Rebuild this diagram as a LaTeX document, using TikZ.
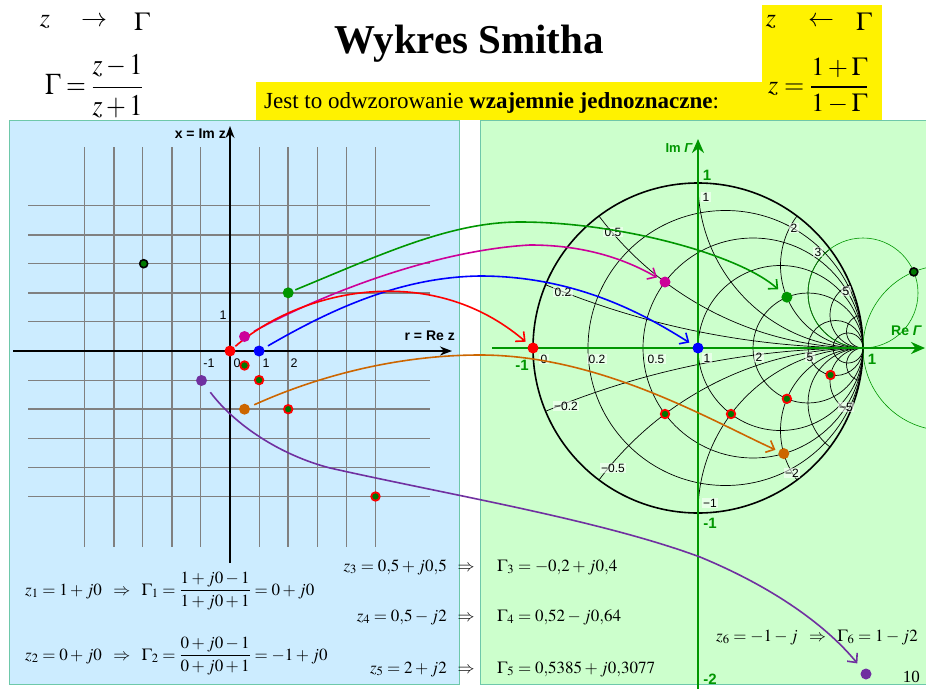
\documentclass[tikz,border=0pt]{standalone}
\usepackage{mathptmx}
\usepackage[no-math]{fontspec}
\setmainfont{Liberation Serif}
\newfontfamily\arial{Liberation Sans}
\usetikzlibrary{arrows.meta}
\pgfdeclarelayer{fg}
\pgfsetlayers{main,fg}
\definecolor{panelblue}{RGB}{204,236,255}
\definecolor{panelgreen}{RGB}{204,255,204}
\definecolor{panelborder}{RGB}{110,200,170}
\definecolor{dgreen}{RGB}{0,150,0}
\definecolor{dotgreen}{RGB}{0,120,0}
\definecolor{mag}{RGB}{204,0,153}
\definecolor{orng}{RGB}{204,102,0}
\definecolor{purp}{RGB}{112,48,160}
\definecolor{gridgray}{RGB}{128,128,128}
\tikzset{
  eqn/.style={font=\fontsize{17}{20}\selectfont, inner sep=0pt},
  bigeq/.style={font=\fontsize{26}{30}\selectfont, inner sep=0pt},
  gthick/.style={gridgray, line width=1.8pt},
  gthin/.style={gridgray, line width=1pt},
  axisblk/.style={black, line width=1.6pt, -{Stealth[length=12pt,width=9pt]}},
  axisgrn/.style={dgreen, line width=2.6pt, -{Stealth[length=14pt,width=12pt]}},
  sc/.style={black, line width=0.7pt},
  scthin/.style={dgreen, line width=0.6pt},
  slab/.style={font=\arial\fontsize{12}{13}\selectfont, fill=white, fill opacity=0.55, text opacity=1, inner sep=1.2pt},
  tlab/.style={font=\arial\fontsize{12.5}{14}\selectfont, inner sep=0pt},
  glab/.style={font=\arial\bfseries\fontsize{15}{16}\selectfont, text=dgreen, inner sep=0pt},
  dot/.style={circle, inner sep=0pt, minimum size=11pt},
  rdot/.style={circle, inner sep=0pt, minimum size=8.5pt, fill=dotgreen, draw=red, line width=1.8pt},
  bdot/.style={circle, inner sep=0pt, minimum size=8pt, fill=dotgreen, draw=black, line width=1.6pt},
  conn/.style={line width=1.6pt, -{Straight Barb[length=7pt,width=13pt]}},
}
\begin{document}
\begin{tikzpicture}[x=1pt,y=-1pt]
\useasboundingbox (0,0) rectangle (926,688);
\fill[white] (0,0) rectangle (926,688);
% panels
\draw[panelborder, fill=panelblue, line width=1pt] (9,120) rectangle (459,684);
\draw[panelborder, fill=panelgreen, line width=1pt] (480,120) rectangle (940,684);
% yellow
\fill[yellow] (256,82) rectangle (762,119.5);
\fill[yellow] (762,5) rectangle (882,119.5);
% title and header text
\node[font=\bfseries\fontsize{41}{48}\selectfont, anchor=base, inner sep=0pt] (title) at (469,53) {Wykres Smitha};
\node[font=\fontsize{23}{26}\selectfont, anchor=base west, inner sep=0pt] (jest) at (264,108) {Jest to odwzorowanie \textbf{wzajemnie jednoznaczne}:};
\node[bigeq] (lz) at (45,22) {$z$};
\node[bigeq] (larr) at (94,22) {$\rightarrow$};
\node[bigeq] (lG) at (142,22) {$\Gamma$};
\node[font=\fontsize{30}{34}\selectfont, inner sep=0pt, anchor=west] (lfrac) at (45,86) {\scalebox{0.85}[1]{$\Gamma=\displaystyle\frac{z-1}{z+1}$}};
\node[bigeq] (rz) at (771,22) {$z$};
\node[bigeq] (rarr) at (821,22) {$\leftarrow$};
\node[bigeq] (rG) at (864,22) {$\Gamma$};
\node[font=\fontsize{26}{30}\selectfont, inner sep=0pt, anchor=west] (rfrac) at (768,86) {$z=\displaystyle\frac{1+\Gamma}{1-\Gamma}$};
% grid
\foreach \k in {-4,-2,2,4} {
  \draw[gthick] ({230+29.1*\k},147) -- ({230+29.1*\k},547);
  \draw[gthick] (28,{351-29.1*\k}) -- (430,{351-29.1*\k});
}
\foreach \k in {-5,-3,-1,1,3,5} {
  \draw[gthin] ({230+29.1*\k},147) -- ({230+29.1*\k},547);
  \draw[gthin] (28,{351-29.1*\k}) -- (430,{351-29.1*\k});
}
\coordinate (hx0) at (13,351);
\coordinate (hx1) at (452,351);
\coordinate (vy0) at (230,563);
\coordinate (vy1) at (230,126);
\draw[axisblk] (hx0) -- (hx1);
\draw[axisblk] (vy0) -- (vy1);
\node[font=\arial\bfseries\fontsize{14}{16}\selectfont, anchor=east, inner sep=0pt] (xlab) at (226,134) {x = Im z};
\node[font=\arial\bfseries\fontsize{14}{16}\selectfont, anchor=east, inner sep=0pt] (rlab) at (455,336) {r = Re z};
\node[tlab] (t1) at (223,315) {1};
\node[tlab] (tm1) at (209,363) {-1};
\node[tlab] (t0) at (237,363) {0};
\node[tlab] (t1b) at (266,363) {1};
\node[tlab] (t2) at (294,363) {2};
% Smith chart
\begin{scope}
  \clip (698,348) circle[radius=165];
  \foreach \x in {0.2,0.5,1,2,3,5,10} {
    \draw[sc] (863,{348-165/\x}) circle[radius={165/\x}];
    \draw[sc] (863,{348+165/\x}) circle[radius={165/\x}];
  }
\end{scope}
\foreach \r in {0.2,0.5,1,2,5,10} {
  \draw[sc] ({698+165*\r/(1+\r)},348) circle[radius={165/(1+\r)}];
}
\draw[black, line width=1.6pt] (698,348) circle[radius=165];
\draw[scthin] (945.5,348) circle[radius=82.5];
\draw[scthin] (863,293) circle[radius=55];
\coordinate (gh0) at (492,348);
\coordinate (gh1) at (925,348);
\coordinate (gv0) at (698,690);
\coordinate (gv1) at (698,139);
\draw[axisgrn] (gh0) -- (gh1);
\draw[axisgrn] (gv0) -- (gv1);
\node[font=\arial\bfseries\fontsize{13}{14}\selectfont, text=dgreen, anchor=east, inner sep=0pt] (imG) at (693,148) {Im \textit{Γ}};
\node[font=\arial\bfseries\fontsize{14}{15}\selectfont, text=dgreen, anchor=west, inner sep=0pt] (reG) at (891,331) {Re \textit{Γ}};
\node[glab] (g1v) at (707,175) {1};
\node[glab] (g1h) at (872,359) {1};
\node[glab] (gm1h) at (522,365) {-1};
\node[glab] (gm1v) at (710,523) {-1};
\node[glab] (gm2v) at (710,679) {-2};
% chart labels
\node[slab] (a0) at (544,359) {0};
\node[slab] (a02) at (597,359) {0.2};
\node[slab] (a05) at (656,359) {0.5};
\node[slab] (a1) at (707,358) {1};
\node[slab] (a2) at (759,357) {2};
\node[slab] (a5) at (810,357) {5};
\node[slab] (u1) at (706,197) {1};
\node[slab] (u05) at (613,232) {0.5};
\node[slab] (u02) at (563,292) {0.2};
\node[slab] (u2) at (794,228) {2};
\node[slab] (u3) at (818,252) {3};
\node[slab] (u5) at (846,291) {5};
\node[slab] (l02) at (566,406) {−0.2};
\node[slab] (l05) at (613,468) {−0.5};
\node[slab] (l1) at (710,503) {−1};
\node[slab] (l2) at (792,473) {−2};
\node[slab] (l5) at (846,407) {−5};
% dots
\begin{pgfonlayer}{fg}
\node[dot, fill=red] (zA) at (230,351) {};
\node[dot, fill=blue] (zB) at (259.1,351) {};
\node[dot, fill=mag] (zC) at (244.5,336.5) {};
\node[dot, fill=orng] (zD) at (244.5,409.2) {};
\node[dot, fill=dgreen] (zE) at (288.2,292.8) {};
\node[dot, fill=purp] (zF) at (201.5,380.5) {};
\node[bdot] (zK) at (143.7,263.7) {};
\node[rdot] (zR1) at (244.5,365.5) {};
\node[rdot] (zR2) at (259.1,380.1) {};
\node[rdot] (zR3) at (288.2,409.2) {};
\node[rdot] (zR4) at (375.5,496.5) {};
\node[dot, fill=red] (gA) at (533,348) {};
\node[dot, fill=blue] (gB) at (698,348) {};
\node[dot, fill=mag] (gC) at (665,282) {};
\node[dot, fill=orng] (gD) at (783.8,453.6) {};
\node[dot, fill=dgreen] (gE) at (786.9,297.2) {};
\node[dot, fill=purp] (gF) at (866,674) {};
\node[bdot] (gK) at (913.8,271.9) {};
\node[rdot] (gR1) at (665,414) {};
\node[rdot] (gR2) at (731,414) {};
\node[rdot] (gR3) at (786.9,398.8) {};
\node[rdot] (gR4) at (830.5,375) {};
\end{pgfonlayer}
% connectors
\draw[conn, dgreen, shorten <=2pt, shorten >=6pt] (zE) .. controls (380,255) and (450,222) .. (520,222) .. controls (620,222) and (740,255) .. (gE);
\draw[conn, mag, shorten <=5pt, shorten >=3.5pt] (zC) .. controls (330,290) and (440,250) .. (530,245) .. controls (590,245) and (630,262) .. (gC);
\draw[conn, blue, shorten <=4.5pt, shorten >=4.5pt] (zB) .. controls (330,310) and (400,277) .. (480,276) .. controls (580,276) and (650,318) .. (gB);
\draw[conn, red, shorten <=1.5pt, shorten >=4pt] (zA) .. controls (300,290) and (430,260) .. (gA);
\draw[conn, orng, shorten <=5pt, shorten >=3.5pt] (zD) .. controls (320,375) and (400,355) .. (480,355) .. controls (600,355) and (710,420) .. (gD);
\draw[conn, purp, shorten <=9pt, shorten >=8pt] (zF) .. controls (235,425) and (280,455) .. (330,468) .. controls (450,495) and (600,520) .. (700,557) .. controls (780,590) and (830,630) .. (gF);
% equations
\node[eqn, anchor=base west] (e1) at (25,595) {$z_1=1+j0\;\;\Rightarrow\;\;\Gamma_1=\displaystyle\frac{1+j0-1}{1+j0+1}=0+j0$};
\node[eqn, anchor=base west] (e2) at (25,660) {$z_2=0+j0\;\;\Rightarrow\;\;\Gamma_2=\displaystyle\frac{0+j0-1}{0+j0+1}=-1+j0$};
\node[eqn, anchor=base east] (e3l) at (447,571) {$z_3=0{,}5+j0{,}5$};
\node[eqn, anchor=base] (e3m) at (466,571) {$\Rightarrow$};
\node[eqn, anchor=base west] (e3r) at (497,571) {$\Gamma_3=-0{,}2+j0{,}4$};
\node[eqn, anchor=base east] (e4l) at (447,621) {$z_4=0{,}5-j2$};
\node[eqn, anchor=base] (e4m) at (466,621) {$\Rightarrow$};
\node[eqn, anchor=base west] (e4r) at (497,621) {$\Gamma_4=0{,}52-j0{,}64$};
\node[eqn, anchor=base east] (e5l) at (447,673) {$z_5=2+j2$};
\node[eqn, anchor=base] (e5m) at (466,673) {$\Rightarrow$};
\node[eqn, anchor=base west] (e5r) at (497,673) {$\Gamma_5=0{,}5385+j0{,}3077$};
\node[eqn, anchor=base west] (e6) at (716,641) {$z_6=-1-j\;\;\Rightarrow\;\;\Gamma_6=1-j2$};
\node[font=\fontsize{17}{19}\selectfont, anchor=base east, inner sep=0pt] (pg) at (920,682) {10};
\end{tikzpicture}
\end{document}
